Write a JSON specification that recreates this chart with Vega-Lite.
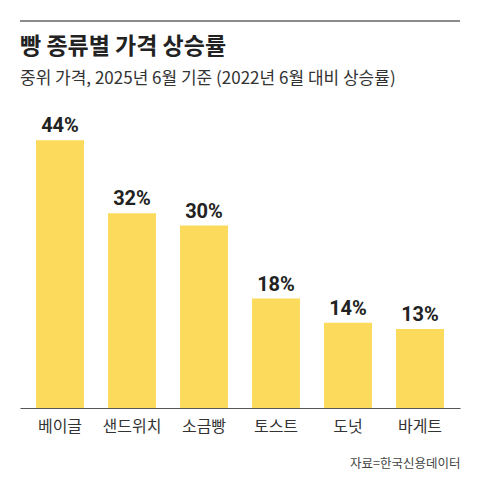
{
  "$schema": "https://vega.github.io/schema/vega-lite/v6.json",
  "autosize": "none",
  "width": 440,
  "height": 292,
  "padding": {"left": 20, "right": 20, "top": 116, "bottom": 82},
  "background": "white",
  "title": {
    "text": "빵 종류별 가격 상승률",
    "subtitle": "중위 가격, 2025년 6월 기준 (2022년 6월 대비 상승률)",
    "anchor": "start",
    "frame": "group",
    "font": "Noto Sans CJK KR",
    "fontSize": 23,
    "fontWeight": "bold",
    "color": "#222222",
    "subtitleFont": "Noto Sans CJK KR",
    "subtitleFontSize": 17,
    "subtitleColor": "#333333",
    "subtitlePadding": 12,
    "offset": -67
  },
  "data": {
    "values": [
      {"bread": "베이글", "rate": 0.44},
      {"bread": "샌드위치", "rate": 0.32},
      {"bread": "소금빵", "rate": 0.30},
      {"bread": "토스트", "rate": 0.18},
      {"bread": "도넛", "rate": 0.14},
      {"bread": "바게트", "rate": 0.13}
    ]
  },
  "encoding": {
    "x": {
      "field": "bread",
      "type": "nominal",
      "sort": null,
      "scale": {"paddingInner": 0.3333, "paddingOuter": 0.2222},
      "title": "자료=한국신용데이터",
      "axis": {
        "domainColor": "#555555",
        "domainWidth": 1.2,
        "ticks": false,
        "labelAngle": 0,
        "labelFont": "Noto Sans CJK KR",
        "labelFontSize": 16,
        "labelColor": "#333333",
        "labelPadding": 10,
        "titleFont": "Noto Sans CJK KR",
        "titleFontSize": 12.5,
        "titleFontWeight": "normal",
        "titleColor": "#444444",
        "titleAnchor": "end",
        "titleAlign": "right",
        "titlePadding": 23
      }
    },
    "y": {
      "field": "rate",
      "type": "quantitative",
      "scale": {"domain": [0, 0.48], "nice": false},
      "axis": null
    }
  },
  "layer": [
    {
      "mark": {"type": "bar", "color": "#FCDA5B"}
    },
    {
      "mark": {
        "type": "text",
        "dy": -8,
        "baseline": "alphabetic",
        "font": "Roboto",
        "fontSize": 20,
        "fontWeight": "bold",
        "color": "#222222"
      },
      "encoding": {
        "text": {"field": "rate", "type": "quantitative", "format": ".0%"}
      }
    },
    {
      "mark": {"type": "rule", "color": "#8a8a8a", "strokeWidth": 1.5},
      "encoding": {
        "x": {"value": 0},
        "x2": {"value": 440},
        "y": {"datum": 0.6367}
      }
    }
  ],
  "config": {
    "view": {"stroke": null}
  }
}
